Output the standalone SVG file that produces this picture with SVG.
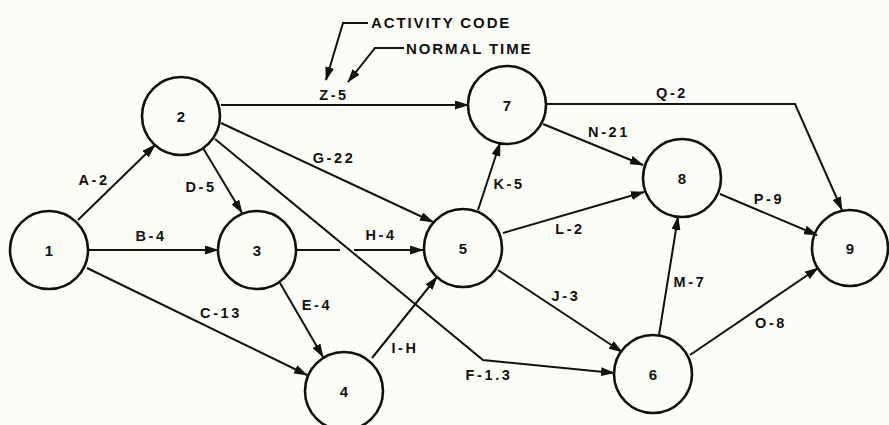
<svg xmlns="http://www.w3.org/2000/svg" width="889" height="425" viewBox="0 0 889 425">
<style>
.node circle{fill:none;stroke:#111;stroke-width:2.6}
.node text,.lbl{font-family:"Liberation Sans",Arial,sans-serif;font-weight:bold;fill:#111}
.node text{font-size:15px;text-anchor:middle}
.lbl{font-size:14.5px;letter-spacing:2.6px;text-anchor:middle}
.note{font-family:"Liberation Sans",Arial,sans-serif;font-weight:bold;fill:#111;font-size:15px;letter-spacing:1.9px}
.edge{fill:none;stroke:#111;stroke-width:2;marker-end:url(#ah)}
</style>
<defs>
<marker id="ah" markerUnits="userSpaceOnUse" markerWidth="14" markerHeight="9" refX="13" refY="4.5" orient="auto">
<path d="M0,0 L14,4.5 L0,9 z" fill="#111"/>
</marker>
</defs>
<rect width="889" height="425" fill="#fdfdf8"/>
<g id="connectors">
<path class="edge" d="M78,220 L155,145"/>
<path class="edge" d="M89,250 L218,250"/>
<path class="edge" d="M87,268 L307,375"/>
<path class="edge" d="M203,148 L242,213"/>
<path class="edge" d="M280,283 L323,357"/>
<path class="edge" d="M215,139 L483,360 L614,373"/>
<path class="edge" d="M221,123 L433,222"/>
<path class="edge" d="M297,250 L340,250 M354,250 L423,250"/>
<path class="edge" d="M372,358 L437,277"/>
<path class="edge" d="M221,105 L468,105"/>
<path class="edge" d="M478,210 L500,143"/>
<path class="edge" d="M503,233 L644,192"/>
<path class="edge" d="M498,270 L622,352"/>
<path class="edge" d="M543,124 L643,165"/>
<path class="edge" d="M547,104 L795,104 L842,210"/>
<path class="edge" d="M720,194 L817,235"/>
<path class="edge" d="M659,335 L678,217"/>
<path class="edge" d="M690,355 L818,268"/>
<path class="edge" d="M368,23 L343,23 L326,80"/>
<path class="edge" d="M404,48 L375,48 L348,82"/>
</g>
<g id="labels">
<text class="lbl" x="94" y="185">A-2</text>
<text class="lbl" x="151" y="241">B-4</text>
<text class="lbl" x="221" y="318">C-13</text>
<text class="lbl" x="201" y="192">D-5</text>
<text class="lbl" x="317" y="310">E-4</text>
<text class="lbl" x="489" y="380">F-1.3</text>
<text class="lbl" x="334" y="163">G-22</text>
<text class="lbl" x="381" y="240">H-4</text>
<text class="lbl" x="405" y="353">I-H</text>
<text class="lbl" x="334" y="100">Z-5</text>
<text class="lbl" x="509" y="189">K-5</text>
<text class="lbl" x="570" y="234">L-2</text>
<text class="lbl" x="566" y="301">J-3</text>
<text class="lbl" x="609" y="137">N-21</text>
<text class="lbl" x="672" y="98">Q-2</text>
<text class="lbl" x="769" y="204">P-9</text>
<text class="lbl" x="690" y="287">M-7</text>
<text class="lbl" x="771" y="328">O-8</text>
<text class="note" x="371" y="27.5">ACTIVITY CODE</text>
<text class="note" x="406" y="53.5">NORMAL TIME</text>
</g>
<g id="node1" class="node"><circle cx="49" cy="250" r="39"/><text x="49" y="255.5">1</text></g>
<g id="node2" class="node"><circle cx="181" cy="116" r="39"/><text x="181" y="121.5">2</text></g>
<g id="node3" class="node"><circle cx="257" cy="250" r="39"/><text x="257" y="255.5">3</text></g>
<g id="node4" class="node"><circle cx="344" cy="391" r="39"/><text x="344" y="396.5">4</text></g>
<g id="node5" class="node"><circle cx="463" cy="248" r="39"/><text x="463" y="253.5">5</text></g>
<g id="node6" class="node"><circle cx="653" cy="374" r="39"/><text x="653" y="379.5">6</text></g>
<g id="node7" class="node"><circle cx="507" cy="105" r="39"/><text x="507" y="110.5">7</text></g>
<g id="node8" class="node"><circle cx="682" cy="178" r="39"/><text x="682" y="183.5">8</text></g>
<g id="node9" class="node"><circle cx="850" cy="248" r="38"/><text x="850" y="253.5">9</text></g>
</svg>
